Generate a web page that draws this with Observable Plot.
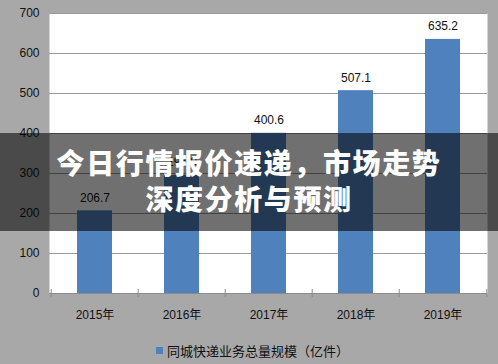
<!DOCTYPE html>
<html>
<head>
<meta charset="utf-8">
<script src="https://cdn.jsdelivr.net/npm/d3@7"></script>
<script src="https://cdn.jsdelivr.net/npm/@observablehq/plot@0.6"></script>
<style>
  html, body { margin: 0; padding: 0; background: #a8a8a8; }
  #wrap { position: relative; width: 498px; height: 364px; background: #a8a8a8; overflow: hidden;
          font-family: "Liberation Sans", "Noto Sans CJK SC", sans-serif; }
  #banner { position: absolute; left: 0; top: 133px; width: 498px; height: 98px;
            background: rgba(0,0,0,0.56); color: #fff; text-align: center;
            font-family: "Noto Sans CJK SC", sans-serif; font-weight: 900; font-size: 28px;
            line-height: 36px; letter-spacing: 1.6px; box-sizing: border-box; padding-top: 11px; }
  #legend { position: absolute; left: 156px; top: 340px; height: 20px; display: flex; align-items: center;
            font-size: 13px; color: #111; font-family: "Liberation Sans", "Noto Sans CJK SC", sans-serif; }
  #legend .sw { width: 7px; height: 7px; background: #4f81bd; margin-right: 4px; }
</style>
</head>
<body>
<div id="wrap">
  <div id="chart"></div>
  <div id="legend"></div>
  <div id="banner"></div>
</div>
<script>
const years = ["2015年", "2016年", "2017年", "2018年", "2019年"];
const values = [206.7, 295.0, 400.6, 507.1, 635.2];
const labels = ["206.7", "295.0", "400.6", "507.1", "635.2"];
const yTicks = [0, 100, 200, 300, 400, 500, 600, 700];
const seriesName = "同城快递业务总量规模（亿件）";
const titleLines = ["今日行情报价速递，市场走势", "深度分析与预测"];

const data = years.map((y, i) => ({year: y, value: values[i], label: labels[i]}));

const W = 498, H = 330, mL = 49, mR = 11;
const step = (W - mL - mR) / years.length;

const chart = Plot.plot({
  width: W,
  height: H,
  marginLeft: mL,
  marginRight: mR,
  marginTop: 13,
  marginBottom: 37,
  style: {background: "#a8a8a8", fontFamily: "Liberation Sans, Noto Sans CJK SC, sans-serif", fontSize: "12px", color: "#111"},
  x: {domain: years, paddingInner: 0.6, paddingOuter: 0.3, label: null},
  y: {domain: [0, 700], label: null},
  marks: [
    Plot.frame({fill: "white", stroke: null}),
    Plot.gridY(yTicks, {stroke: "#9a9a9a", strokeOpacity: 1, strokeWidth: 1}),
    Plot.barY(data, {x: "year", y: "value", fill: "#4f81bd"}),
    Plot.text(data, {x: "year", y: "value", text: "label", dy: -13, fontSize: 12, fill: "#111"}),
    Plot.tickX(data, {x: "year", dx: -step / 2, stroke: "#8c8c8c", insetBottom: -4, insetTop: 276}),
    Plot.tickX([years[years.length - 1]], {x: d => d, dx: step / 2, stroke: "#8c8c8c", insetBottom: -4, insetTop: 276}),
    Plot.ruleY([0], {stroke: "#8c8c8c"}),
    Plot.axisY(yTicks, {tickSize: 0, tickPadding: 10, fontSize: 12, fill: "#111"}),
    Plot.axisX({tickSize: 0, tickPadding: 17, fontSize: 12, fill: "#111"})
  ]
});
document.getElementById("chart").appendChild(chart);

const lg = document.getElementById("legend");
lg.innerHTML = `<div class="sw"></div><span></span>`;
lg.querySelector("span").textContent = seriesName;

const bn = document.getElementById("banner");
titleLines.forEach(t => { const d = document.createElement("div"); d.textContent = t; bn.appendChild(d); });
</script>
</body>
</html>
